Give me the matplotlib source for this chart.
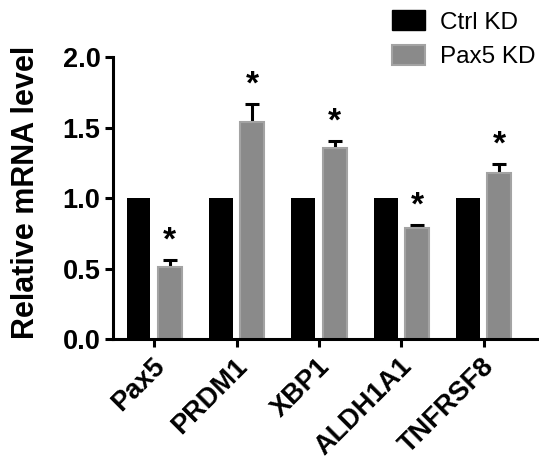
import numpy as np
import matplotlib.pyplot as plt
import matplotlib.transforms as mtransforms
from matplotlib.patches import Patch

genes = ['Pax5', 'PRDM1', 'XBP1', 'ALDH1A1', 'TNFRSF8']
ctrl_kd = [1.0, 1.0, 1.0, 1.0, 1.0]
pax5_kd = [0.51, 1.54, 1.355, 0.785, 1.175]
pax5_err = [0.05, 0.125, 0.05, 0.025, 0.065]
series_names = ['Ctrl KD', 'Pax5 KD']

plt.rcParams['font.family'] = ['Liberation Sans', 'DejaVu Sans']

fig = plt.figure(figsize=(5.39, 4.62), dpi=100)
ax = fig.add_axes([0.2096, 0.2662, 0.7904, 0.6104])

x = np.arange(len(genes))
w = 0.29
off = 0.19

# error bars sit behind the bars so only the upper half shows
ax.errorbar(x + off, pax5_kd, yerr=pax5_err, fmt='none',
            ecolor='black', elinewidth=2.2, capsize=5, capthick=2.2, zorder=1)
ax.bar(x - off, ctrl_kd, w, color='black', edgecolor='black', linewidth=0, zorder=2)
ax.bar(x + off, pax5_kd, w, color='#8a8a8a', edgecolor='#a3a3a3', linewidth=1.5, zorder=2)

# significance stars
for xi, v, e in zip(x + off, pax5_kd, pax5_err):
    ax.annotate('*', (xi, v + e), xytext=(0, 2.5), textcoords='offset points',
                ha='center', va='bottom', fontsize=24, fontweight='bold')

ax.set_xlim(-0.5, 4.67)
ax.set_ylim(0, 2.0)
ax.set_yticks([0.0, 0.5, 1.0, 1.5, 2.0])
ax.set_yticklabels(['0.0', '0.5', '1.0', '1.5', '2.0'])
ax.set_xticks(x)
ax.set_xticklabels(genes, rotation=45, ha='right', va='center', rotation_mode='anchor')

for s in ['top', 'right']:
    ax.spines[s].set_visible(False)
for s in ['left', 'bottom']:
    ax.spines[s].set_linewidth(2.2)
ax.tick_params(axis='both', width=2.2, length=6, pad=3)
ax.tick_params(axis='y', labelsize=19.5)
ax.tick_params(axis='x', labelsize=19.5, pad=6)
shift = mtransforms.ScaledTranslation(5 / 72, -5 / 72, fig.dpi_scale_trans)
for lab in ax.get_xticklabels():
    lab.set_fontweight('bold')
    lab.set_transform(lab.get_transform() + shift)
for lab in ax.get_yticklabels():
    lab.set_fontweight('bold')

ax.set_ylabel('Relative mRNA level', fontsize=22, fontweight='bold')
ax.yaxis.set_label_coords(-0.168, 0.52)

handles = [Patch(facecolor='black', edgecolor='black'),
           Patch(facecolor='#8a8a8a', edgecolor='#a3a3a3', linewidth=1.5)]
fig.legend(handles, series_names, loc='upper left', bbox_to_anchor=(0.727, 0.978),
           frameon=False, fontsize=17.5, handlelength=1.35, handleheight=0.9,
           handletextpad=0.65, labelspacing=0.45, borderpad=0, borderaxespad=0)

fig.savefig('out.png', dpi=100)
